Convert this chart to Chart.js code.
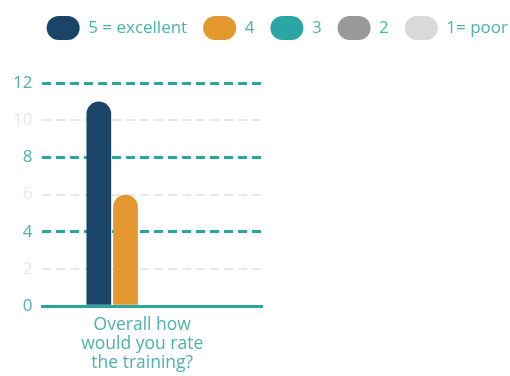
<!DOCTYPE html>
<html>
<head>
<meta charset="utf-8">
<script src="https://cdn.jsdelivr.net/npm/chart.js@4/dist/chart.umd.min.js"></script>
<style>
  html, body { margin: 0; padding: 0; background: #fff; }
  #wrap { width: 510px; height: 376px; }
</style>
</head>
<body>
<div id="wrap"><canvas id="rating-chart"></canvas></div>
<script>
const categories = [["Overall how", "would you rate", "the training?"]]
const seriesNames = ["5 = excellent", "4", "3", "2", "1= poor"]
const seriesValues = [[11], [6], [0], [0], [0]]
const seriesColors = ["#1b4468", "#e3982f", "#2aa7a5", "#999999", "#d9d9d9"]
const yMin = 0
const yMax = 12
const yStep = 2

const teal = "#2ba59f"
const tealText = "#4cb2ad"
const faint = "#e8e8e8"

// push the plot down below the legend, and let the legend run to the right edge
const legendGap = {
    id: "legendGap",
    beforeInit(chart) {
        const fit = chart.legend.fit
        chart.legend.fit = function () {
            fit.bind(chart.legend)()
            this.height += 33
        }
    },
    afterLayout(chart) {
        chart.legend.right = 508 + 16
    }
}

const ratingChart = document.getElementById("rating-chart")

new Chart(ratingChart, {
    type: 'bar',
    data: {
        labels: categories,
        datasets: seriesNames.map((name, i) => ({
            label: name,
            data: seriesValues[i],
            backgroundColor: seriesColors[i],
            borderRadius: {topLeft: 13, topRight: 13},
            borderSkipped: 'start',
            categoryPercentage: 0.608,
            barPercentage: 0.926
        }))
    },
    options: {
        maintainAspectRatio: false,
        responsive: true,
        animation: false,
        layout: {padding: {left: 3, right: 2, top: 0, bottom: 2}},
        plugins: {
            tooltip: {enabled: false},
            legend: {
                position: 'top',
                align: 'end',
                labels: {
                    boxWidth: 33,
                    boxHeight: 24,
                    useBorderRadius: true,
                    borderRadius: 12,
                    padding: 16,
                    color: tealText,
                    font: {family: "'Open Sans'", size: 17}
                }
            }
        },
        scales: {
            x: {
                grid: {display: false},
                border: {display: true, color: teal, width: 3},
                ticks: {
                    color: tealText,
                    padding: 1,
                    labelOffset: -10,
                    font: {family: "'Open Sans'", size: 17.5, lineHeight: 1.1}
                }
            },
            y: {
                min: yMin,
                max: yMax,
                border: {display: false, dash: [9, 5]},
                grid: {
                    drawTicks: false,
                    color: ctx => ctx.tick.value === 0 ? 'transparent' : (ctx.tick.value % 4 === 0 ? teal : faint),
                    lineWidth: ctx => ctx.tick.value % 4 === 0 ? 3 : 2
                },
                ticks: {
                    stepSize: yStep,
                    autoSkip: false,
                    padding: 10,
                    color: ctx => ctx.tick.value % 4 === 0 ? tealText : faint,
                    font: {family: "'Open Sans'", size: 17}
                }
            },
            // empty space to the right of the plot
            blank: {
                type: 'linear',
                position: 'right',
                grid: {display: false},
                border: {display: false},
                ticks: {display: false},
                afterFit: axis => { axis.width = 246 }
            }
        }
    },
    plugins: [legendGap]
})
</script>
</body>
</html>
